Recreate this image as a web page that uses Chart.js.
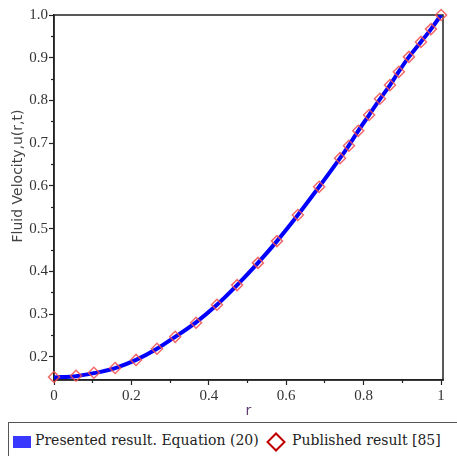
<!DOCTYPE html>
<html>
<head>
<meta charset="utf-8">
<script src="https://cdn.jsdelivr.net/npm/chart.js@4/dist/chart.umd.min.js"></script>
<style>
  body { margin: 0; background: #fff; }
  #wrap { position: relative; width: 457px; height: 456px; overflow: hidden; }
  #legend { position: absolute; left: 8px; top: 422px; width: 470px; height: 40px;
            border: 1.5px solid #555; background: #fff; font-family: "DejaVu Serif", serif;
            font-size: 14px; color: #222; }
  .item { position: absolute; top: 9px; white-space: nowrap; }
  .box { position: absolute; left: 4px; top: 13px; width: 18px; height: 12px; background: #3838ff; }
  .diam { position: absolute; left: 260px; top: 12px; width: 10px; height: 10px;
          border: 2.5px solid #c00000; transform: rotate(45deg); }
</style>
</head>
<body>
<div id="wrap">
  <canvas id="chart" width="457" height="456"></canvas>
  <div id="legend">
    <span class="box"></span>
    <span class="item" style="left:26px">Presented result. Equation (20)</span>
    <span class="diam"></span>
    <span class="item" style="left:283px">Published result [85]</span>
  </div>
</div>
<script>
// valores
var rValues = [0, 0.057, 0.103, 0.158, 0.212, 0.266, 0.313, 0.367, 0.421, 0.473, 0.527, 0.576, 0.630,
  0.685, 0.739, 0.762, 0.786, 0.814, 0.842, 0.868, 0.891, 0.917, 0.948, 0.974, 1.0];
var uPublished = [0.153, 0.156, 0.163, 0.174, 0.193, 0.219, 0.247, 0.280, 0.322, 0.368, 0.420, 0.471, 0.532,
  0.598, 0.665, 0.694, 0.729, 0.766, 0.804, 0.836, 0.867, 0.902, 0.937, 0.967, 1.0];
var uPresented = [0.152, 0.155, 0.162, 0.174, 0.193, 0.219, 0.247, 0.281, 0.322, 0.368, 0.420, 0.471, 0.532,
  0.598, 0.665, 0.695, 0.729, 0.766, 0.803, 0.836, 0.868, 0.902, 0.937, 0.967, 1.0];

var xTicks = [0, 0.2, 0.4, 0.6, 0.8, 1];
var xTickLabels = ['0', '0.2', '0.4', '0.6', '0.8', '1'];
var xMinorTicks = [0.1, 0.3, 0.5, 0.7, 0.9];
var yTicks = [0.2, 0.3, 0.4, 0.5, 0.6, 0.7, 0.8, 0.9, 1.0];
var yTickLabels = ['0.2', '0.3', '0.4', '0.5', '0.6', '0.7', '0.8', '0.9', '1.0'];
var yMinorTicks = [0.25, 0.35, 0.45, 0.55, 0.65, 0.75, 0.85, 0.95];

function pts(xs, ys) {
  return xs.map(function(x, i) { return { x: x, y: ys[i] }; });
}
function setTicks(list) {
  return function(scale) { scale.ticks = list.map(function(v) { return { value: v }; }); };
}

var axisColor = '#222';
var tickFont = { family: "'Times New Roman', 'Liberation Serif', serif", size: 15 };

// marco superior y derecho
var framePlugin = {
  id: 'frame',
  beforeDatasetsDraw: function(chart) {
    var a = chart.chartArea, ctx = chart.ctx;
    ctx.save();
    ctx.strokeStyle = axisColor;
    ctx.lineWidth = 1.5;
    ctx.strokeRect(a.left, a.top, a.right - a.left, a.bottom - a.top);
    ctx.restore();
  }
};

// titulo del eje y (no centrado en el original)
var yTitlePlugin = {
  id: 'yTitle',
  afterDraw: function(chart) {
    var ctx = chart.ctx;
    ctx.save();
    ctx.translate(18, 176);
    ctx.rotate(-Math.PI / 2);
    ctx.font = '14px "DejaVu Sans"';
    ctx.fillStyle = '#444';
    ctx.textAlign = 'center';
    ctx.textBaseline = 'middle';
    ctx.fillText('Fluid Velocity,u(r,t)', 0, 0);
    ctx.restore();
  }
};

var ctx = document.getElementById('chart').getContext('2d');
new Chart(ctx, {
  type: 'line',
  data: {
    datasets: [{
      label: 'Published result [85]',
      data: pts(rValues, uPublished),
      showLine: false,
      pointStyle: 'rectRot',
      pointRadius: 5.5,
      pointBorderWidth: 1.5,
      pointBorderColor: 'rgba(240,80,80,0.85)',
      pointBackgroundColor: 'rgba(0,0,0,0)',
      clip: false,
      order: 0
    }, {
      label: 'Presented result. Equation (20)',
      data: pts(rValues, uPresented),
      borderColor: '#0000ff',
      borderWidth: 4,
      pointRadius: 0,
      fill: false,
      cubicInterpolationMode: 'monotone',
      order: 1
    }]
  },
  options: {
    responsive: false,
    animation: false,
    events: [],
    layout: { padding: { left: 0, right: 14, top: 15, bottom: 0 } },
    plugins: { legend: { display: false }, tooltip: { enabled: false } },
    scales: {
      x: {
        type: 'linear', position: 'bottom', weight: 1,
        min: 0, max: 1.005,
        afterBuildTicks: setTicks(xTicks),
        afterFit: function(s) { s.height = 76; },
        grid: { drawOnChartArea: false, tickLength: 5, tickColor: axisColor, tickWidth: 1.2 },
        border: { color: axisColor, width: 1.5 },
        ticks: { font: tickFont, color: '#333', padding: 2, maxRotation: 0,
                 callback: function(v, i) { return xTickLabels[i]; } },
        title: { display: true, text: 'r', color: '#5e3d6e',
                 font: { family: 'DejaVu Sans', size: 14 }, padding: { top: 0, bottom: 36 } }
      },
      xMinor: {
        type: 'linear', position: 'bottom', weight: 0,
        min: 0, max: 1.005,
        afterBuildTicks: setTicks(xMinorTicks),
        afterFit: function(s) { s.height = 0; },
        grid: { drawOnChartArea: false, tickLength: 3, tickColor: axisColor, tickWidth: 1.2 },
        border: { display: false },
        ticks: { display: false }
      },
      y: {
        type: 'linear', position: 'left', weight: 1,
        min: 0.146, max: 1.0,
        afterBuildTicks: setTicks(yTicks),
        afterFit: function(s) { s.width = 54; },
        grid: { drawOnChartArea: false, tickLength: 5, tickColor: axisColor, tickWidth: 1.2 },
        border: { color: axisColor, width: 1.5 },
        ticks: { font: tickFont, color: '#333', padding: 1,
                 callback: function(v, i) { return yTickLabels[i]; } }
      },
      yMinor: {
        type: 'linear', position: 'left', weight: 0,
        min: 0.146, max: 1.0,
        afterBuildTicks: setTicks(yMinorTicks),
        afterFit: function(s) { s.width = 0; },
        grid: { drawOnChartArea: false, tickLength: 3, tickColor: axisColor, tickWidth: 1.2 },
        border: { display: false },
        ticks: { display: false }
      }
    }
  },
  plugins: [framePlugin, yTitlePlugin]
});
</script>
</body>
</html>
